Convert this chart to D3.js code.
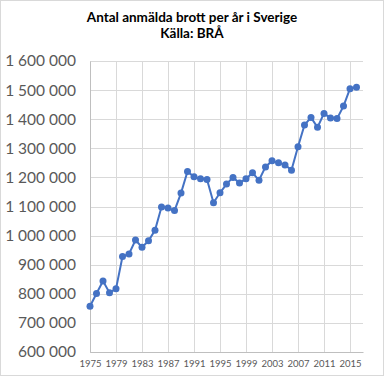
<!DOCTYPE html>
<html>
<head>
<meta charset="utf-8">
<script src="https://cdn.jsdelivr.net/npm/d3@7"></script>
<style>
  body { margin: 0; background: #fff; }
  svg { display: block; }
</style>
</head>
<body>
<div id="chart"></div>
<script>
// data (BRÅ, reported crimes per year)
const years = d3.range(1975, 2017)
const crimes = [
    757000, 801000, 844000, 804000, 817000, 928000, 937000, 985000, 960000, 982000,
    1018000, 1098000, 1095000, 1086000, 1146000, 1220000, 1202000, 1195000, 1193000, 1113000,
    1147000, 1177000, 1200000, 1181000, 1195000, 1216000, 1190000, 1236000, 1257000, 1250000,
    1243000, 1225000, 1305000, 1380000, 1406000, 1372000, 1420000, 1404000, 1402000, 1445000,
    1505000, 1510000
]
const yTicks = d3.range(600000, 1600001, 100000)
const xTicks = d3.range(1975, 2016, 4)
const titleLines = ["Antal anmälda brott per år i Sverige", "Källa: BRÅ"]

function drawChart() {
    let W = 384, H = 376
    let left = 90, right = 363, top = 61, bottom = 352

    let svg = d3.select("#chart").append("svg")
        .attr("width", W).attr("height", H)

    svg.append("rect")
        .attr("x", 0.5).attr("y", 0.5)
        .attr("width", W - 1).attr("height", H - 1)
        .attr("fill", "#fff").attr("stroke", "#d9d9d9")

    svg.selectAll("text.title").data(titleLines).enter()
        .append("text").attr("class", "title")
        .attr("x", 192).attr("y", (d, i) => 22 + i * 16)
        .attr("text-anchor", "middle")
        .style("font-family", "Lato, 'Open Sans', sans-serif")
        .style("font-weight", "bold").style("font-size", "13.5px")
        .attr("fill", "#000")
        .text(d => d)

    let x = d3.scaleLinear().domain([1975, 2017]).range([left, right])
    let y = d3.scaleLinear().domain([600000, 1600000]).range([bottom, top])

    // horizontal grid
    svg.append("g")
        .selectAll("line").data(yTicks).enter()
        .append("line")
        .attr("x1", left).attr("x2", right)
        .attr("y1", d => Math.round(y(d)) + 0.5).attr("y2", d => Math.round(y(d)) + 0.5)
        .attr("stroke", "#d9d9d9")

    // vertical grid
    svg.append("g")
        .selectAll("line").data(xTicks).enter()
        .append("line")
        .attr("x1", d => Math.round(x(d)) + 0.5).attr("x2", d => Math.round(x(d)) + 0.5)
        .attr("y1", top).attr("y2", bottom)
        .attr("stroke", "#d9d9d9")

    // y axis labels
    let fmt = v => d3.format(",")(v).replace(/,/g, " ")
    let yAxis = d3.axisLeft(y).tickValues(yTicks).tickSize(0).tickPadding(14).tickFormat(fmt)
    let gy = svg.append("g").attr("transform", `translate(${left},0)`).call(yAxis)
    gy.select(".domain").attr("stroke", "#bfbfbf")
    gy.selectAll("text")
        .style("font-family", "Lato, 'Open Sans', sans-serif")
        .style("font-size", "15.5px").attr("fill", "#595959")

    // x axis labels
    let xAxis = d3.axisBottom(x).tickValues(xTicks).tickSize(0).tickPadding(8).tickFormat(d3.format("d"))
    let gx = svg.append("g").attr("transform", `translate(0,${bottom})`).call(xAxis)
    gx.select(".domain").attr("stroke", "#bfbfbf")
    gx.selectAll("text")
        .style("font-family", "Lato, 'Open Sans', sans-serif")
        .style("font-size", "9.5px").attr("fill", "#595959")

    // series
    let pts = years.map((yr, i) => ({yr: yr, v: crimes[i]}))
    let line = d3.line().x(d => x(d.yr)).y(d => y(d.v))
    svg.append("path")
        .attr("d", line(pts))
        .attr("fill", "none").attr("stroke", "#4472c4").attr("stroke-width", 2)
    svg.append("g").selectAll("circle").data(pts).enter()
        .append("circle")
        .attr("cx", d => x(d.yr)).attr("cy", d => y(d.v))
        .attr("r", 3.5).attr("fill", "#4472c4")
}

drawChart()
</script>
</body>
</html>
